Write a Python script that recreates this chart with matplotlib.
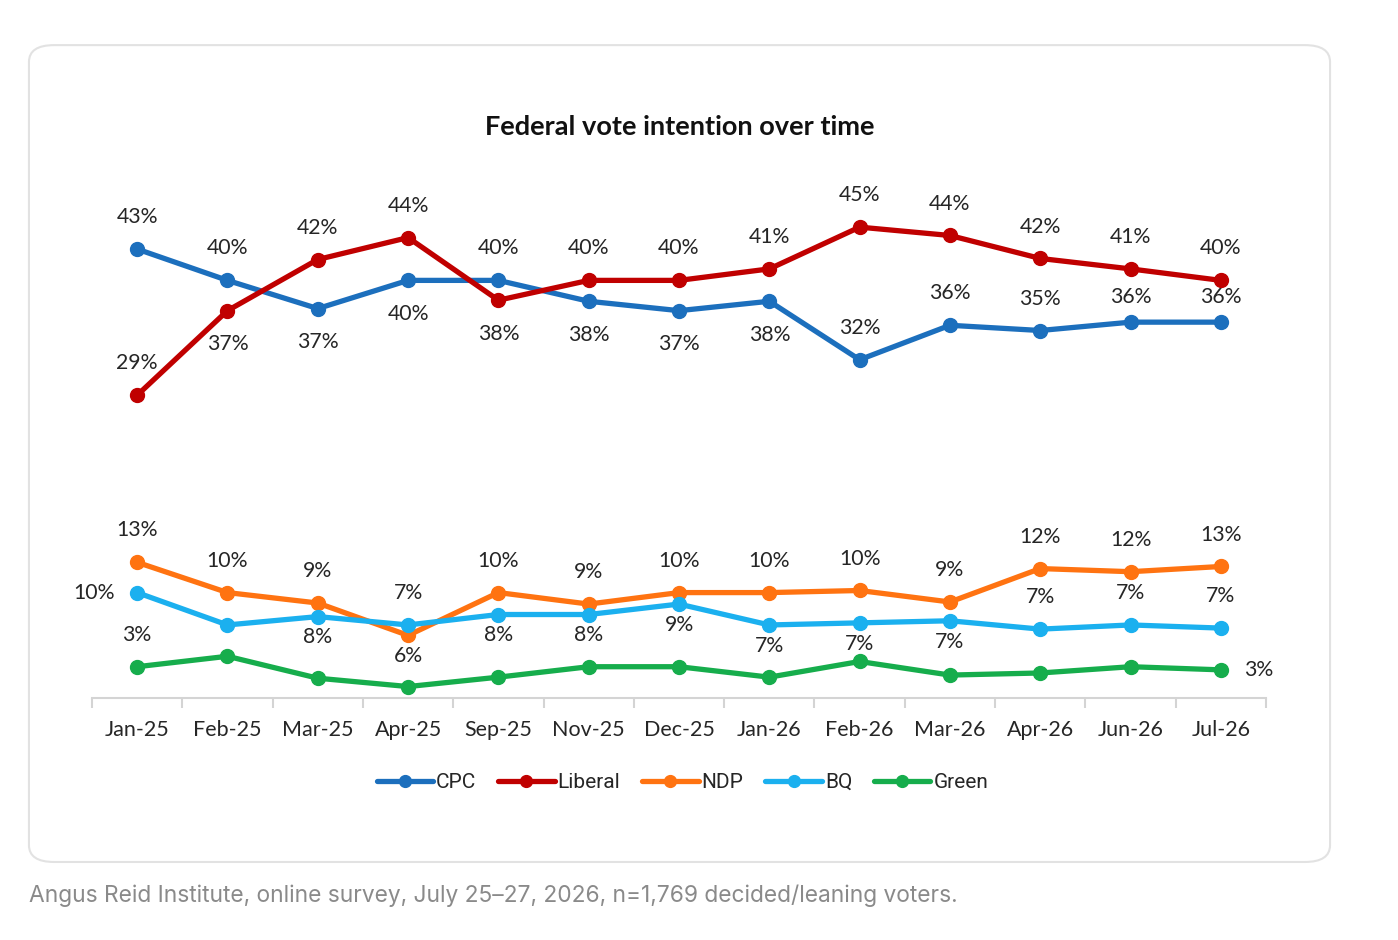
import matplotlib.pyplot as plt
from matplotlib.patches import FancyBboxPatch

months = ["Jan-25", "Feb-25", "Mar-25", "Apr-25", "Sep-25", "Nov-25", "Dec-25",
          "Jan-26", "Feb-26", "Mar-26", "Apr-26", "Jun-26", "Jul-26"]

cpc = [43.0, 40.0, 37.3, 40.0, 40.0, 38.0, 37.1, 38.0, 32.4, 35.7, 35.2, 36.0, 36.0]
liberal = [29.0, 37.1, 42.0, 44.1, 38.1, 40.0, 40.0, 41.1, 45.1, 44.3, 42.1, 41.1, 40.0]
ndp = [13.0, 10.1, 9.1, 6.0, 10.1, 9.0, 10.1, 10.1, 10.3, 9.2, 12.4, 12.1, 12.6]
bq = [10.1, 7.0, 7.8, 7.0, 8.0, 8.0, 9.0, 7.0, 7.2, 7.4, 6.6, 7.0, 6.7]
green = [3.0, 4.0, 1.9, 1.1, 2.0, 3.0, 3.0, 2.0, 3.5, 2.2, 2.4, 3.0, 2.7]

# where each data label sits: a=above, n=just above, b=below, c=just below, l=left, r=right
cpc_pos = list("aabbabbbaaann")
lib_pos = list("abaabaaaaaaaa")
ndp_pos = list("aaacaaaaaaaaa")
bq_pos = ["l", "", "c", "a", "c", "c", "c", "c", "c", "c", "a", "a", "a"]
green_pos = ["a"] + [""] * 11 + ["r"]

series = [
    ("CPC", cpc, "#1c6fbd", cpc_pos),
    ("Liberal", liberal, "#c00000", lib_pos),
    ("NDP", ndp, "#ff7311", ndp_pos),
    ("BQ", bq, "#1bb0ef", bq_pos),
    ("Green", green, "#16ad4c", green_pos),
]

lab_font = "Lato"
fig = plt.figure(figsize=(13.98, 9.40), dpi=100)

card = FancyBboxPatch((0.0207, 0.083), 0.9307, 0.869, boxstyle="round,pad=0,rounding_size=0.018",
                      transform=fig.transFigure, facecolor="white", edgecolor="#e2e2e2", lw=1.5,
                      zorder=-5)
fig.patches.append(card)

ax = fig.add_axes([0.0658, 0.2574, 0.8398, 0.5554])
ax.set_zorder(2)
ax.set_facecolor("none")
x = list(range(len(months)))

offsets = {"a": (0, 23), "n": (0, 18), "b": (0, -24), "c": (0, -15),
           "l": (-31, 0), "r": (27, 0)}
for name, vals, col, pos in series:
    ax.plot(x, vals, color=col, lw=3.8, marker="o", ms=10, label=name,
            solid_capstyle="round", zorder=3)
    for xi, v, p in zip(x, vals, pos):
        if not p:
            continue
        ax.annotate(f"{v:.0f}%", (xi, v), xytext=offsets[p], textcoords="offset points",
                    ha="center", va="center", fontsize=15.3, color="#262626",
                    family=lab_font, zorder=6)

ax.set_xlim(-0.5, len(months) - 0.5)
ax.set_ylim(0, 50)
ax.set_yticks([])
for s in ("top", "right", "left"):
    ax.spines[s].set_visible(False)
ax.spines["bottom"].set_color("#d4d4d4")
ax.spines["bottom"].set_linewidth(1.5)
ax.set_xticks(x)
ax.set_xticklabels(months, fontsize=15.5, family=lab_font, color="#262626")
ax.set_xticks([i - 0.5 for i in range(len(months) + 1)], minor=True)
ax.tick_params(axis="x", which="major", length=0, pad=16)
ax.tick_params(axis="x", which="minor", length=7, width=1.5, color="#d4d4d4")

fig.text(0.486, 0.865, "Federal vote intention over time", ha="center", va="center",
         fontsize=19.5, fontweight="bold", family=lab_font, color="#111111")

leg = ax.legend(loc="center", bbox_to_anchor=(0.503, -0.162), ncol=5, frameon=False,
                prop={"family": "Roboto", "size": 15}, handlelength=2.7, markerscale=0.85,
                handletextpad=0.15, columnspacing=1.05)
for t in leg.get_texts():
    t.set_color("#262626")

fig.text(0.0207, 0.0468, "Angus Reid Institute, online survey, July 25\u201327, 2026, n=1,769 decided/leaning voters.",
         ha="left", va="center", fontsize=16.4, family="Inter", color="#8a8a8a")

fig.savefig("out.png", dpi=100, facecolor="white")
